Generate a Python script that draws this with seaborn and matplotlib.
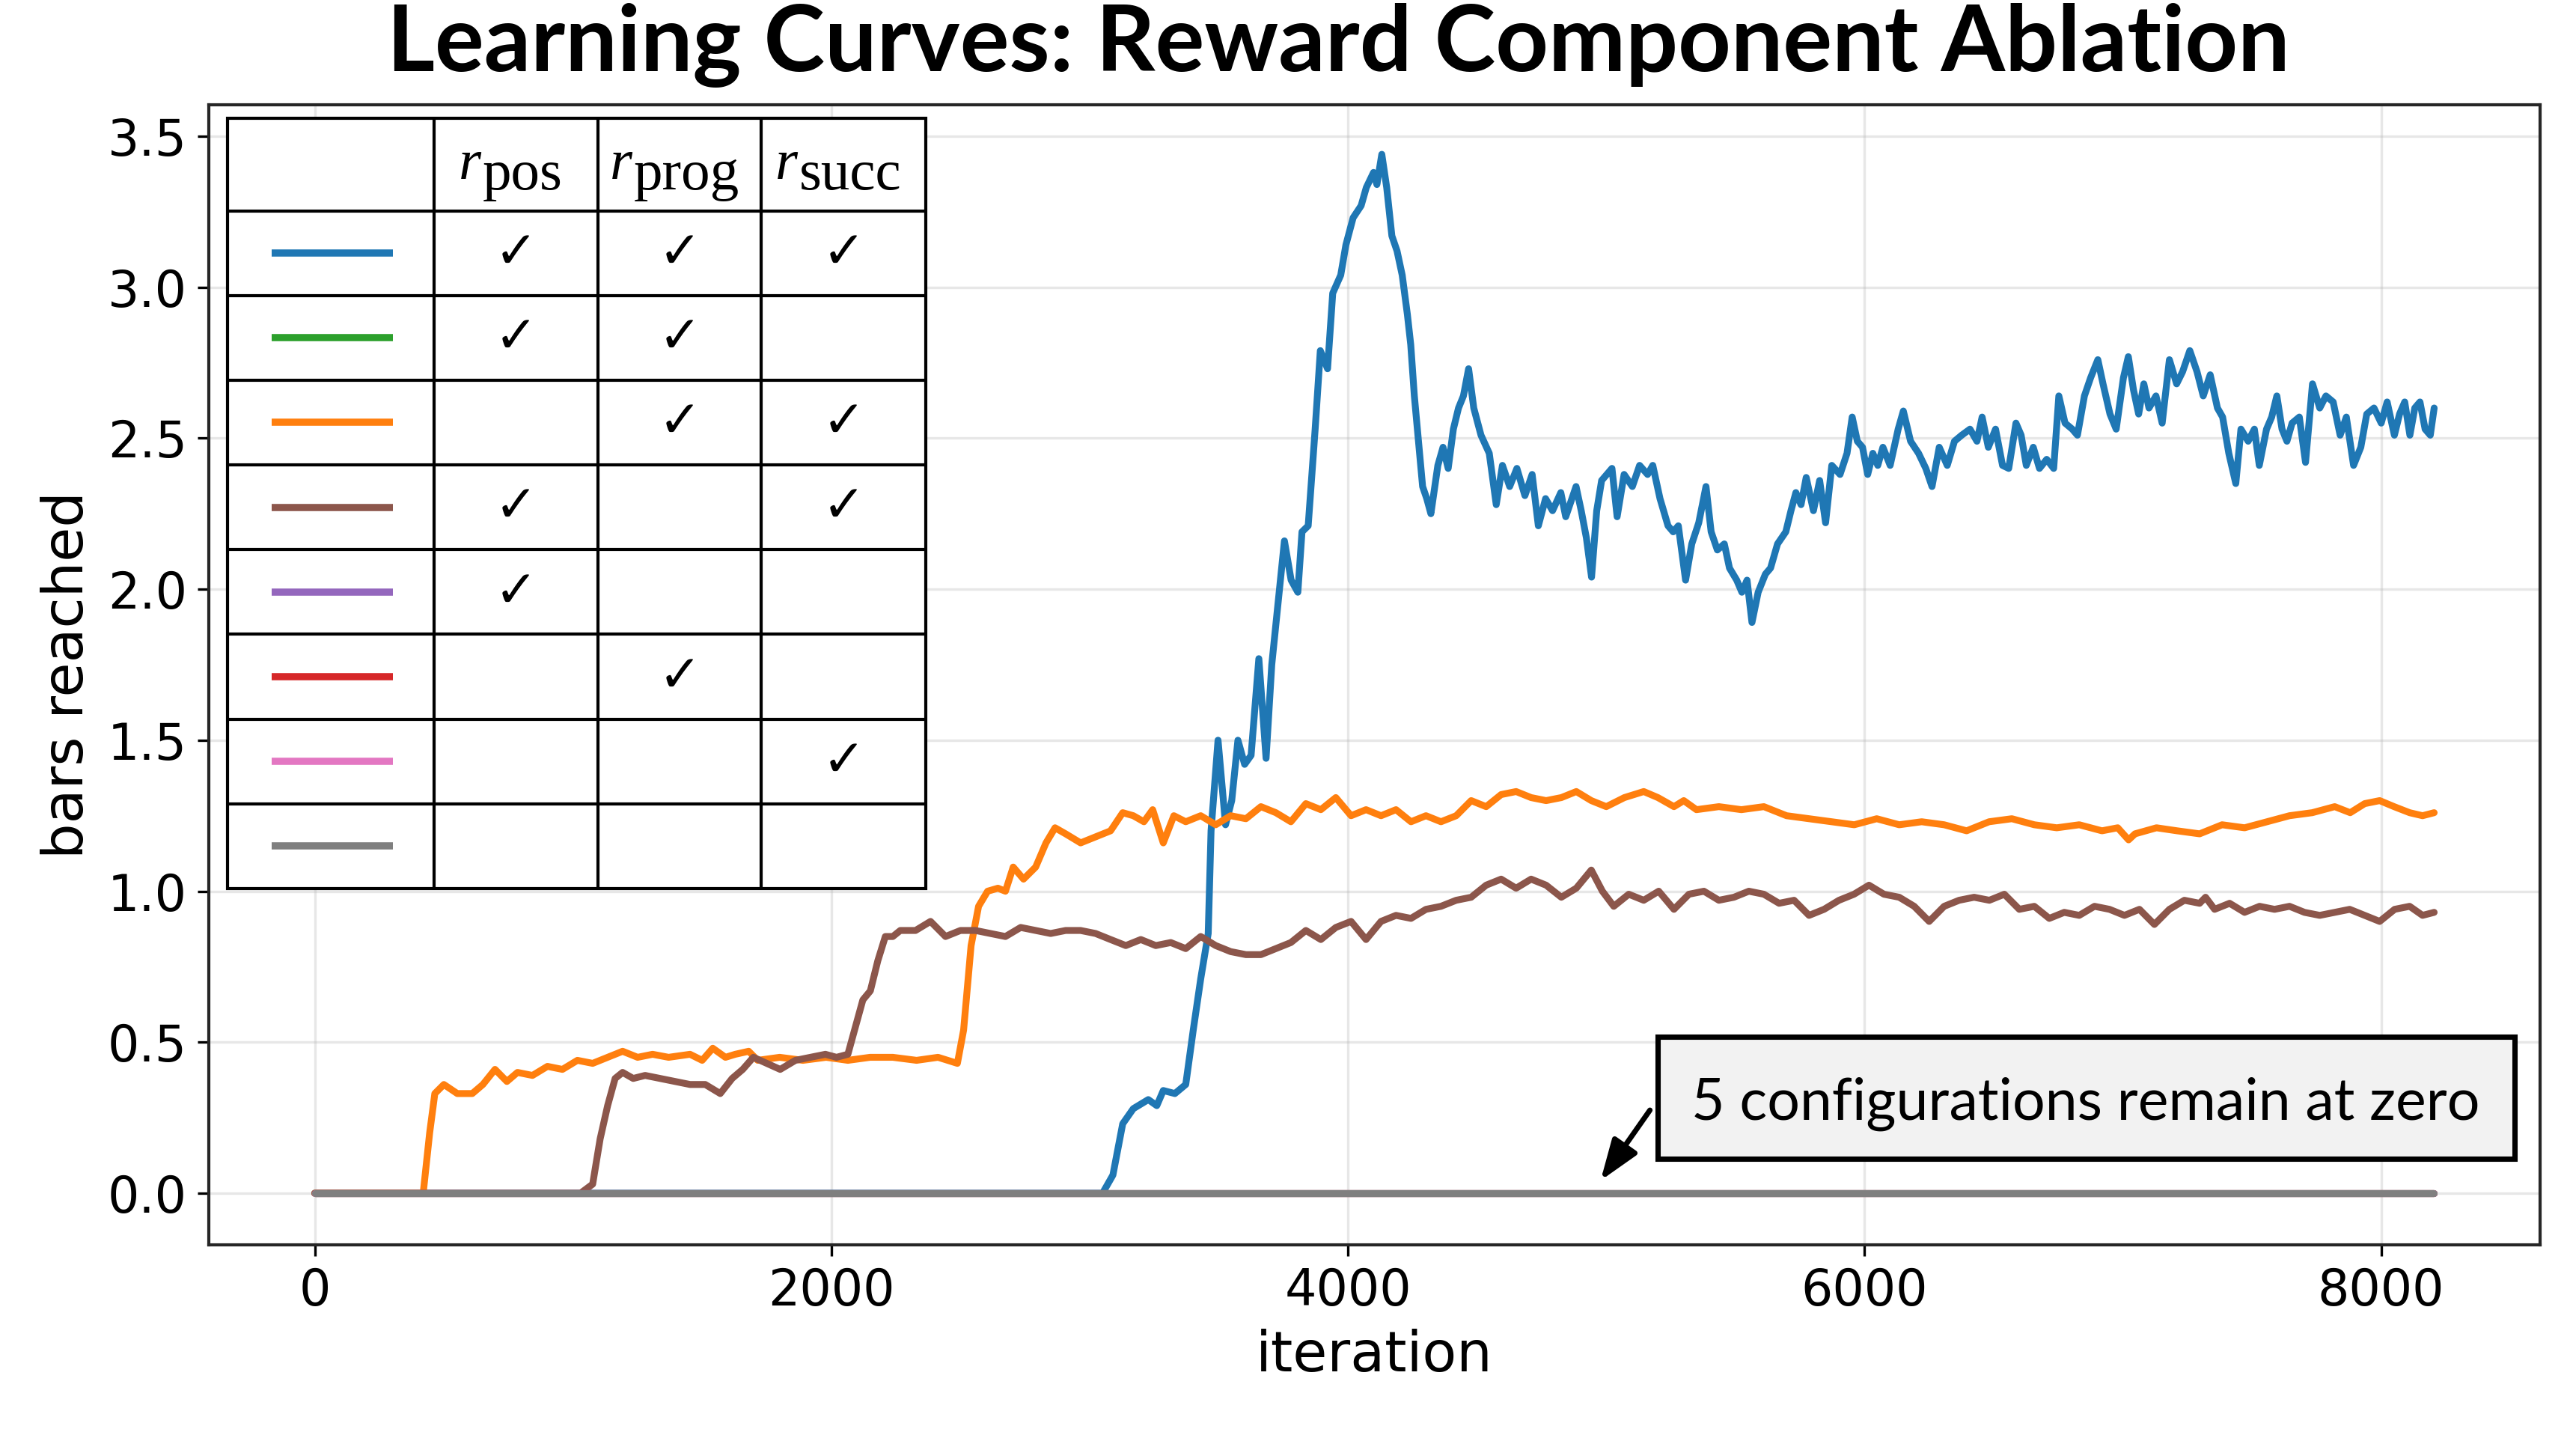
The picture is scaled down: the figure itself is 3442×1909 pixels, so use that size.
"""
Learning curves for the reward component ablation: bars reached per iteration
for the eight combinations of r_pos, r_prog and r_succ.
"""
import matplotlib
matplotlib.use("Agg")
import matplotlib.pyplot as plt
from matplotlib.patches import Rectangle
import pandas as pd
import seaborn as sns

# configurations, in legend-table order
configs = ["pos+prog+succ", "pos+prog", "prog+succ", "pos+succ", "pos", "prog", "succ", "none"]
colors = ["#1f77b4", "#2ca02c", "#ff7f0e", "#8c564b", "#9467bd", "#d62728", "#e377c2", "#7f7f7f"]
uses_pos = [1, 1, 0, 1, 1, 0, 0, 0]
uses_prog = [1, 1, 1, 0, 0, 1, 0, 0]
uses_succ = [1, 0, 1, 1, 0, 0, 1, 0]
header_subs = ["pos", "prog", "succ"]

# (iteration, bars reached)
blue_points = [
    (0, 0.0), (3050, 0.0), (3090, 0.06), (3128, 0.23), (3169, 0.28), (3227, 0.31), (3260, 0.29),
    (3285, 0.34), (3330, 0.33), (3372, 0.36), (3401, 0.54), (3430, 0.71), (3459, 0.86), (3470, 1.20),
    (3497, 1.50), (3526, 1.22), (3550, 1.30), (3574, 1.50), (3600, 1.42), (3625, 1.45), (3655, 1.77),
    (3683, 1.44), (3705, 1.75), (3735, 2.00), (3754, 2.16), (3780, 2.03), (3806, 1.99), (3822, 2.19),
    (3846, 2.21), (3873, 2.53), (3893, 2.79), (3921, 2.73), (3941, 2.98), (3972, 3.04), (3992, 3.14),
    (4020, 3.23), (4051, 3.27), (4071, 3.33), (4099, 3.38), (4112, 3.34), (4131, 3.44), (4150, 3.33),
    (4170, 3.17), (4190, 3.12), (4210, 3.04), (4230, 2.91), (4243, 2.81), (4257, 2.64), (4273, 2.49),
    (4289, 2.34), (4305, 2.30), (4321, 2.25), (4348, 2.41), (4368, 2.47), (4388, 2.40), (4408, 2.53),
    (4428, 2.60), (4447, 2.64), (4467, 2.73), (4487, 2.60), (4515, 2.51), (4547, 2.45), (4574, 2.28),
    (4598, 2.41), (4626, 2.34), (4654, 2.40), (4685, 2.31), (4713, 2.38), (4737, 2.21), (4765, 2.30),
    (4792, 2.26), (4824, 2.32), (4843, 2.24), (4883, 2.34), (4903, 2.26), (4923, 2.17), (4943, 2.04),
    (4963, 2.26), (4982, 2.36), (5002, 2.38), (5022, 2.40), (5042, 2.24), (5069, 2.38), (5101, 2.34),
    (5129, 2.41), (5160, 2.38), (5180, 2.41), (5208, 2.30), (5239, 2.21), (5259, 2.19), (5279, 2.21),
    (5307, 2.03), (5331, 2.15), (5358, 2.22), (5386, 2.34), (5406, 2.19), (5430, 2.13), (5457, 2.15),
    (5477, 2.07), (5505, 2.03), (5525, 1.99), (5545, 2.03), (5564, 1.89), (5588, 1.99), (5616, 2.05),
    (5636, 2.07), (5663, 2.15), (5695, 2.19), (5715, 2.26), (5734, 2.32), (5754, 2.28), (5774, 2.37),
    (5802, 2.26), (5826, 2.36), (5849, 2.22), (5873, 2.41), (5905, 2.38), (5932, 2.45), (5952, 2.57),
    (5972, 2.49), (5992, 2.47), (6012, 2.38), (6032, 2.45), (6051, 2.41), (6071, 2.47), (6099, 2.41),
    (6130, 2.53), (6150, 2.59), (6178, 2.49), (6209, 2.45), (6237, 2.40), (6261, 2.34), (6289, 2.47),
    (6320, 2.41), (6348, 2.49), (6376, 2.51), (6408, 2.53), (6435, 2.49), (6455, 2.57), (6479, 2.47),
    (6507, 2.53), (6534, 2.41), (6558, 2.40), (6586, 2.55), (6606, 2.51), (6626, 2.41), (6653, 2.47),
    (6677, 2.40), (6705, 2.43), (6732, 2.40), (6752, 2.64), (6776, 2.55), (6804, 2.53), (6824, 2.51),
    (6851, 2.64), (6875, 2.70), (6903, 2.76), (6923, 2.68), (6950, 2.58), (6974, 2.53), (7002, 2.70),
    (7021, 2.77), (7041, 2.66), (7061, 2.58), (7081, 2.68), (7101, 2.60), (7128, 2.64), (7152, 2.55),
    (7180, 2.76), (7208, 2.68), (7231, 2.72), (7259, 2.79), (7287, 2.72), (7311, 2.64), (7338, 2.71),
    (7366, 2.60), (7386, 2.57), (7410, 2.45), (7437, 2.35), (7457, 2.53), (7485, 2.49), (7509, 2.53),
    (7528, 2.41), (7556, 2.53), (7576, 2.57), (7596, 2.64), (7616, 2.53), (7635, 2.49), (7655, 2.55),
    (7683, 2.57), (7707, 2.42), (7734, 2.68), (7762, 2.60), (7786, 2.64), (7814, 2.62), (7841, 2.51),
    (7865, 2.57), (7893, 2.41), (7921, 2.47), (7944, 2.58), (7972, 2.60), (8000, 2.55), (8023, 2.62),
    (8051, 2.51), (8071, 2.58), (8091, 2.62), (8111, 2.51), (8130, 2.60), (8150, 2.62), (8170, 2.53),
    (8190, 2.51), (8205, 2.60),
]

orange_points = [
    (0, 0.0), (420, 0.0), (445, 0.20), (465, 0.33), (500, 0.36), (552, 0.33), (610, 0.33), (651, 0.36),
    (698, 0.41), (744, 0.37), (785, 0.40), (843, 0.39), (901, 0.42), (959, 0.41), (1017, 0.44),
    (1076, 0.43), (1134, 0.45), (1192, 0.47), (1250, 0.45), (1308, 0.46), (1370, 0.45), (1453, 0.46),
    (1500, 0.44), (1541, 0.48), (1590, 0.45), (1628, 0.46), (1680, 0.47), (1715, 0.44), (1800, 0.45),
    (1890, 0.44), (1980, 0.45), (2064, 0.44), (2150, 0.45), (2238, 0.45), (2330, 0.44), (2413, 0.45),
    (2488, 0.43), (2512, 0.54), (2541, 0.82), (2570, 0.95), (2605, 1.00), (2645, 1.01), (2674, 1.00),
    (2704, 1.08), (2744, 1.04), (2791, 1.08), (2831, 1.16), (2866, 1.21), (2907, 1.19), (2965, 1.16),
    (3023, 1.18), (3081, 1.20), (3128, 1.26), (3169, 1.25), (3210, 1.23), (3244, 1.27), (3285, 1.16),
    (3326, 1.25), (3372, 1.23), (3430, 1.25), (3488, 1.22), (3546, 1.25), (3605, 1.24), (3663, 1.28),
    (3721, 1.26), (3779, 1.23), (3837, 1.29), (3895, 1.27), (3953, 1.31), (4012, 1.25), (4070, 1.27),
    (4128, 1.25), (4186, 1.27), (4244, 1.23), (4302, 1.25), (4360, 1.23), (4419, 1.25), (4477, 1.30),
    (4535, 1.28), (4593, 1.32), (4651, 1.33), (4709, 1.31), (4767, 1.30), (4826, 1.31), (4884, 1.33),
    (4942, 1.30), (5000, 1.28), (5070, 1.31), (5145, 1.33), (5200, 1.31), (5262, 1.28), (5300, 1.30),
    (5349, 1.27), (5436, 1.28), (5523, 1.27), (5610, 1.28), (5698, 1.25), (5785, 1.24), (5872, 1.23),
    (5960, 1.22), (6047, 1.24), (6134, 1.22), (6221, 1.23), (6308, 1.22), (6395, 1.20), (6482, 1.23),
    (6570, 1.24), (6657, 1.22), (6744, 1.21), (6831, 1.22), (6919, 1.20), (6980, 1.21), (7022, 1.17),
    (7047, 1.19), (7130, 1.21), (7210, 1.20), (7297, 1.19), (7384, 1.22), (7471, 1.21), (7558, 1.23),
    (7645, 1.25), (7733, 1.26), (7820, 1.28), (7880, 1.26), (7936, 1.29), (7994, 1.30), (8050, 1.28),
    (8110, 1.26), (8160, 1.25), (8205, 1.26),
]

brown_points = [
    (0, 0.0), (1029, 0.0), (1076, 0.03), (1105, 0.18), (1134, 0.29), (1163, 0.38), (1192, 0.40),
    (1233, 0.38), (1279, 0.39), (1337, 0.38), (1395, 0.37), (1453, 0.36), (1512, 0.36), (1570, 0.33),
    (1616, 0.38), (1657, 0.41), (1698, 0.45), (1750, 0.43), (1802, 0.41), (1861, 0.44), (1919, 0.45),
    (1977, 0.46), (2020, 0.45), (2064, 0.46), (2093, 0.55), (2122, 0.64), (2151, 0.67), (2180, 0.77),
    (2209, 0.85), (2238, 0.85), (2267, 0.87), (2326, 0.87), (2384, 0.90), (2442, 0.85), (2500, 0.87),
    (2558, 0.87), (2616, 0.86), (2674, 0.85), (2733, 0.88), (2791, 0.87), (2849, 0.86), (2907, 0.87),
    (2965, 0.87), (3023, 0.86), (3081, 0.84), (3140, 0.82), (3198, 0.84), (3256, 0.82), (3314, 0.83),
    (3372, 0.81), (3430, 0.85), (3488, 0.82), (3546, 0.80), (3605, 0.79), (3663, 0.79), (3721, 0.81),
    (3779, 0.83), (3837, 0.87), (3895, 0.84), (3953, 0.88), (4012, 0.90), (4070, 0.84), (4128, 0.90),
    (4186, 0.92), (4244, 0.91), (4302, 0.94), (4360, 0.95), (4419, 0.97), (4477, 0.98), (4535, 1.02),
    (4593, 1.04), (4651, 1.01), (4709, 1.04), (4767, 1.02), (4826, 0.98), (4884, 1.01), (4942, 1.07),
    (4985, 1.00), (5029, 0.95), (5087, 0.99), (5145, 0.97), (5203, 1.00), (5262, 0.94), (5320, 0.99),
    (5378, 1.00), (5436, 0.97), (5494, 0.98), (5552, 1.00), (5610, 0.99), (5669, 0.96), (5727, 0.97),
    (5785, 0.92), (5843, 0.94), (5901, 0.97), (5959, 0.99), (6017, 1.02), (6075, 0.99), (6134, 0.98),
    (6192, 0.95), (6250, 0.90), (6308, 0.95), (6366, 0.97), (6424, 0.98), (6483, 0.97), (6541, 0.99),
    (6599, 0.94), (6657, 0.95), (6715, 0.91), (6773, 0.93), (6831, 0.92), (6890, 0.95), (6948, 0.94),
    (7006, 0.92), (7064, 0.94), (7122, 0.89), (7180, 0.94), (7238, 0.97), (7297, 0.96), (7320, 0.98),
    (7355, 0.94), (7413, 0.96), (7471, 0.93), (7529, 0.95), (7587, 0.94), (7645, 0.95), (7703, 0.93),
    (7762, 0.92), (7820, 0.93), (7878, 0.94), (7936, 0.92), (7994, 0.90), (8052, 0.94), (8110, 0.95),
    (8160, 0.92), (8205, 0.93),
]

# the five remaining configurations never leave zero
zero_points = [(0, 0.0), (8205, 0.0)]

curves = {"pos+prog+succ": blue_points, "prog+succ": orange_points, "pos+succ": brown_points}

rows = []
for name in configs:
    for it, val in curves.get(name, zero_points):
        rows.append({"iteration": it, "bars": val, "config": name})
df = pd.DataFrame(rows)

sns.set_style("white")
plt.rcParams.update({
    "font.family": ["DejaVu Sans"],
    "font.sans-serif": ["DejaVu Sans"],
    "axes.edgecolor": ".15",
    "axes.linewidth": 1.0,
    "text.color": "black",
    "axes.labelcolor": "black",
    "xtick.color": "black",
    "ytick.color": "black",
    "xtick.bottom": True,
    "ytick.left": True,
})

W, H = 3442, 1909
fig = plt.figure(figsize=(W / 300, H / 300), dpi=300)
ax = fig.add_axes([279 / W, 1 - 1663 / H, (3394 - 279) / W, (1663 - 140) / H])

sns.lineplot(
    data=df, x="iteration", y="bars", hue="config", hue_order=configs,
    palette=colors, estimator=None, linewidth=2.2, legend=False, ax=ax,
)

ax.set_xlim(-410, 8615)
ax.set_ylim(-0.171, 3.604)
ax.set_xticks([0, 2000, 4000, 6000, 8000])
ax.set_yticks([0.0, 0.5, 1.0, 1.5, 2.0, 2.5, 3.0, 3.5])
ax.grid(True, color="#b0b0b0", alpha=0.3, linewidth=0.8)
ax.tick_params(labelsize=16, length=3.5, width=0.8, colors="black")
for lbl in ax.get_xticklabels() + ax.get_yticklabels():
    lbl.set_fontfamily("DejaVu Sans")
for sp in ax.spines.values():
    sp.set_visible(True)
    sp.set_color(".15")
ax.set_xlabel("iteration", fontsize=18, fontfamily="DejaVu Sans")
ax.set_ylabel("bars reached", fontsize=18, fontfamily="DejaVu Sans")

# annotation box with arrow pointing at the zero line
ax.add_patch(Rectangle((5200, 0.113), 3317, 0.404, facecolor="#f2f2f2",
                       edgecolor="black", linewidth=1.7, zorder=5))
ax.text(6857, 0.245, "5 configurations remain at zero", family="Lato",
        fontsize=18.5, ha="center", va="baseline", zorder=6)
ax.annotate("", xy=(4978, 0.042), xytext=(5169, 0.275),
            arrowprops=dict(arrowstyle="-|>,head_length=0.5,head_width=0.18",
                            color="black", lw=1.7, mutation_scale=22,
                            shrinkA=0, shrinkB=0), zorder=6)

fig.text(0.5195, 1 - 95 / H, "Learning Curves: Reward Component Ablation",
         family="Lato", fontweight="bold", fontsize=29.6, ha="center", va="baseline")

# legend table drawn as an inset (units = pixels)
tw, th = 933, 1029
tab = fig.add_axes([304 / W, 1 - 1187 / H, tw / W, th / H])
tab.set_xlim(0, tw)
tab.set_ylim(th, 0)
tab.axis("off")
tab.add_patch(Rectangle((0, 0), tw, th, facecolor="white", edgecolor="black",
                        linewidth=1.0, clip_on=False))
col_edges = [0, 276, 495, 713, tw]
header_h = 123.5
row_h = (th - header_h) / len(configs)
for x in col_edges[1:-1]:
    tab.plot([x, x], [0, th], color="black", lw=1.0, clip_on=False)
for i in range(len(configs)):
    y = header_h + i * row_h
    tab.plot([0, tw], [y, y], color="black", lw=1.0, clip_on=False)

col_centers = [(col_edges[i] + col_edges[i + 1]) / 2 for i in range(4)]
for i, name in enumerate(configs):
    yc = header_h + (i + 0.5) * row_h
    tab.plot([59, 221], [yc, yc], color=colors[i], lw=2.3, solid_capstyle="butt")
    for j, used in enumerate([uses_pos[i], uses_prog[i], uses_succ[i]]):
        if used:
            tab.text(col_centers[j + 1], yc, "\u2713", family="DejaVu Sans",
                     fontsize=16.5, ha="center", va="center")

renderer = fig.canvas.get_renderer()
for j, sub in enumerate(header_subs):
    t_r = tab.text(0, 81, "r", family="Liberation Serif", fontstyle="italic",
                   fontsize=18.5, ha="left", va="baseline")
    t_s = tab.text(0, 95, sub, family="Liberation Serif", fontsize=18.5,
                   ha="left", va="baseline")
    w_r = t_r.get_window_extent(renderer).width
    w_s = t_s.get_window_extent(renderer).width
    x0 = col_centers[j + 1] - 8 - (w_r + w_s) / 2
    t_r.set_x(x0)
    t_s.set_x(x0 + w_r + 2)

fig.savefig("out.png", dpi=300)
